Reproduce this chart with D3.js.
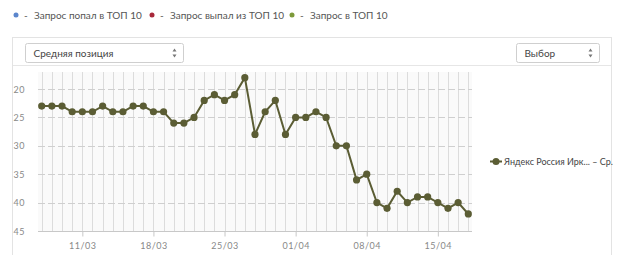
<!doctype html>
<html lang="ru">
<head>
  <meta charset="utf-8">
  <title>Средняя позиция</title>
  <script src="https://d3js.org/d3.v7.min.js"></script>
  <style>
    body { margin: 0; background: #fff; font-family: Lato, "Open Sans", sans-serif; }
    #chart { width: 624px; height: 255px; }
    svg text { font-family: Lato, "Open Sans", sans-serif; }
  </style>
</head>
<body>
  <div id="chart"></div>
  <script>
// data
const startDate = '2018-03-07';
const positions = [23, 23, 23, 24, 24, 24, 23, 24, 24, 23, 23, 24, 24, 26, 26, 25,
  22, 21, 22, 21, 18, 28, 24, 22, 28, 25, 25, 24, 25, 30, 30, 36, 35,
  40, 41, 38, 40, 39, 39, 40, 41, 40, 42];
const yTicks = [20, 25, 30, 35, 40, 45];
const xTickDates = ['2018-03-11', '2018-03-18', '2018-03-25', '2018-04-01', '2018-04-08', '2018-04-15'];
const topLegend = [
  { label: 'Запрос попал в ТОП 10', color: '#5b86cc' },
  { label: 'Запрос выпал из ТОП 10', color: '#a8283a' },
  { label: 'Запрос в ТОП 10', color: '#7d9a3a' }
];
const seriesName = 'Яндекс Россия Ирк... – Ср.';

const parse = d3.utcParse('%Y-%m-%d');
const day0 = parse(startDate);
const points = positions.map((v, i) => ({ date: d3.utcDay.offset(day0, i), value: v }));

const svg = d3.select('#chart').append('svg')
  .attr('width', 624)
  .attr('height', 255);

// top legend
const tl = svg.append('g').selectAll('g')
  .data(topLegend)
  .join('g')
  .attr('transform', (d, i) => `translate(${[16, 152, 292][i]},15)`);
tl.append('circle').attr('r', 2.5).attr('fill', d => d.color);
tl.append('text').attr('x', 8).attr('y', 3.5).text('-')
  .attr('font-size', 10).attr('fill', '#555');
tl.append('text').attr('x', 18).attr('y', 3.5).text(d => d.label)
  .attr('font-size', 10).attr('fill', '#555');

// panel
svg.append('rect').attr('x', 12.5).attr('y', 37.5).attr('width', 599).attr('height', 230)
  .attr('fill', '#fff').attr('stroke', '#e3e3e3');
svg.append('line').attr('x1', 13).attr('x2', 611).attr('y1', 65.5).attr('y2', 65.5)
  .attr('stroke', '#e6e6e6');

// select boxes
function selectBox(x, w, label) {
  const g = svg.append('g').attr('transform', `translate(${x},43.5)`);
  g.append('rect').attr('width', w).attr('height', 19).attr('rx', 2)
    .attr('fill', '#fff').attr('stroke', '#cfcfcf');
  g.append('text').attr('x', 8).attr('y', 13).text(label)
    .attr('font-size', 10).attr('fill', '#444');
  g.append('path').attr('d', `M${w - 11},8 l2,-3 l2,3 Z M${w - 11},11 l2,3 l2,-3 Z`)
    .attr('fill', '#777');
}
selectBox(25.5, 158, 'Средняя позиция');
selectBox(516.5, 83, 'Выбор');

// scales
const plot = { left: 38, right: 472, top: 72, bottom: 231 };
const x = d3.scaleUtc()
  .domain([points[0].date, points[points.length - 1].date])
  .range([41.7, 468.3]);
const y = d3.scaleLinear().domain([17, 45]).range([plot.top, plot.bottom]);

svg.append('rect').attr('x', plot.left).attr('y', plot.top)
  .attr('width', plot.right - plot.left).attr('height', plot.bottom - plot.top)
  .attr('fill', '#fafafa');

// vertical day grid
svg.append('g').selectAll('line')
  .data(points)
  .join('line')
  .attr('x1', d => Math.round(x(d.date)) + 0.5)
  .attr('x2', d => Math.round(x(d.date)) + 0.5)
  .attr('y1', plot.top)
  .attr('y2', plot.bottom)
  .attr('stroke', '#dcdcdc');

// horizontal dashed grid
svg.append('g').selectAll('line')
  .data(yTicks.slice(0, -1))
  .join('line')
  .attr('x1', plot.left).attr('x2', plot.right)
  .attr('y1', d => Math.round(y(d)) + 0.5)
  .attr('y2', d => Math.round(y(d)) + 0.5)
  .attr('stroke', '#cfcfcf')
  .attr('stroke-dasharray', '7,3');

// x axis
const xAxis = svg.append('g')
  .attr('transform', `translate(0,${plot.bottom + 0.5})`)
  .call(d3.axisBottom(x)
    .tickValues(xTickDates.map(parse))
    .tickFormat(d3.utcFormat('%d/%m'))
    .tickSize(5)
    .tickSizeOuter(0));
xAxis.select('.domain').attr('d', `M${plot.left},0H${plot.right}`).attr('stroke', '#c8c8c8');
xAxis.selectAll('.tick line').attr('stroke', '#c8c8c8');
xAxis.selectAll('.tick text').attr('font-size', 9).attr('fill', '#888')
  .attr('dy', '1.1em').attr('letter-spacing', '0.5px');

// y axis
const yAxis = svg.append('g')
  .attr('transform', `translate(${plot.left - 10},0)`)
  .call(d3.axisLeft(y).tickValues(yTicks).tickSize(0));
yAxis.select('.domain').remove();
yAxis.selectAll('.tick text').attr('font-size', 9).attr('fill', '#888')
  .attr('dy', '0.35em').attr('letter-spacing', '0.5px');

// series
const lineColor = '#5b5d34';
svg.append('path')
  .datum(points)
  .attr('fill', 'none')
  .attr('stroke', lineColor)
  .attr('stroke-width', 2)
  .attr('d', d3.line().x(d => x(d.date)).y(d => y(d.value)));

svg.append('g').selectAll('circle')
  .data(points)
  .join('circle')
  .attr('cx', d => x(d.date))
  .attr('cy', d => y(d.value))
  .attr('r', 3.6)
  .attr('fill', lineColor);

// series legend
const sl = svg.append('g').attr('transform', 'translate(496,161.5)');
sl.append('line').attr('x1', -6).attr('x2', 6).attr('stroke', lineColor).attr('stroke-width', 2);
sl.append('circle').attr('r', 3.5).attr('fill', lineColor);
sl.append('text').attr('x', 8).attr('y', 3.5).text(seriesName)
  .attr('font-size', 9).attr('fill', '#444');
  </script>
</body>
</html>
